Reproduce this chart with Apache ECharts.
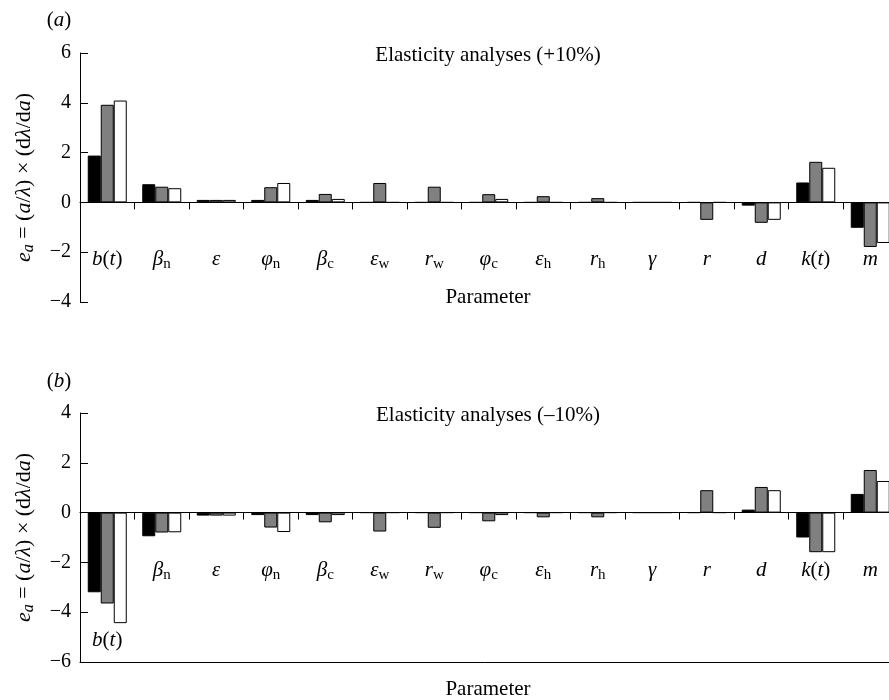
<!DOCTYPE html>
<html>
<head>
<meta charset="utf-8">
<script src="https://cdn.jsdelivr.net/npm/echarts@6/dist/echarts.min.js"></script>
<style>html,body{margin:0;padding:0;background:#fff;}#c{width:889px;height:700px;}</style>
</head>
<body>
<div id="c"></div>
<script>
// ---- data ----
var categories = ['b(t)','βn','ε','φn','βc','εw','rw','φc','εh','rh','γ','r','d','k(t)','m'];
// (a) elasticity +10%
var plusBlack = [1.88, 0.73, 0.10, 0.10, 0.10, 0, 0, 0, 0, 0, 0, 0, -0.13, 0.80, -1.02];
var plusGray  = [3.92, 0.63, 0.10, 0.61, 0.34, 0.78, 0.63, 0.33, 0.25, 0.17, 0, -0.70, -0.82, 1.63, -1.79];
var plusWhite = [4.09, 0.57, 0.10, 0.78, 0.14, 0, 0, 0.14, 0, 0, 0, 0, -0.70, 1.39, -1.63];
// (b) elasticity -10%
var minusBlack = [-3.20, -0.95, -0.12, -0.10, -0.10, 0, 0, 0, 0, 0, 0, 0, 0.12, -1.00, 0.75];
var minusGray  = [-3.65, -0.80, -0.12, -0.60, -0.39, -0.76, -0.61, -0.35, -0.19, -0.19, 0, 0.90, 1.03, -1.59, 1.71];
var minusWhite = [-4.44, -0.79, -0.12, -0.78, -0.10, 0, 0, -0.10, 0, 0, 0, 0, 0.90, -1.59, 1.27];
var yTicksA = {min: -4, max: 6, interval: 2};
var yTicksB = {min: -6, max: 4, interval: 2};
var titleA = 'Elasticity analyses (+10%)';
var titleB = 'Elasticity analyses (–10%)';
var xName = 'Parameter';

// ---- rendering ----
var FF = "'Liberation Serif','DejaVu Serif',serif";
var labelMap = {
  'b(t)': '{i|b}{u|(}{i|t}{u|)}',
  'βn': '{i|β}{s|n}',
  'ε': '{i|ε}',
  'φn': '{i|φ}{s|n}',
  'βc': '{i|β}{s|c}',
  'εw': '{i|ε}{s|w}',
  'rw': '{i|r}{s|w}',
  'φc': '{i|φ}{s|c}',
  'εh': '{i|ε}{s|h}',
  'rh': '{i|r}{s|h}',
  'γ': '{i|γ}',
  'r': '{i|r}',
  'd': '{i|d}',
  'k(t)': '{i|k}{u|(}{i|t}{u|)}',
  'm': '{i|m}'
};
var rich = {
  i: {fontFamily: FF, fontStyle: 'italic', fontSize: 21, lineHeight: 26, color: '#000'},
  u: {fontFamily: FF, fontSize: 21, lineHeight: 26, color: '#000'},
  s: {fontFamily: FF, fontSize: 15, lineHeight: 14, verticalAlign: 'bottom', color: '#000'},
  gap: {fontSize: 10, lineHeight: 70}
};
var yName = '{i|e}{s|a}{u| = (}{i|a}{u|/}{i|λ}{u|) × (d}{i|λ}{u|/d}{i|a}{u|)}';
var yRich = {
  i: {fontFamily: FF, fontStyle: 'italic', fontSize: 22, lineHeight: 25, color: '#000'},
  u: {fontFamily: FF, fontSize: 22, lineHeight: 25, color: '#000'},
  s: {fontFamily: FF, fontStyle: 'italic', fontSize: 16, lineHeight: 13, verticalAlign: 'bottom', color: '#000'}
};
var tagRich = {
  i: {fontFamily: FF, fontStyle: 'italic', fontSize: 21, lineHeight: 24, color: '#000'},
  u: {fontFamily: FF, fontSize: 21, lineHeight: 24, color: '#000'}
};

// axis at zero: line + ticks only
function zeroAxis(gridIndex) {
  return {
    type: 'category', gridIndex: gridIndex, data: categories,
    axisLine: {onZero: true, lineStyle: {color: '#000', width: 1}},
    axisTick: {show: true, length: 7, lineStyle: {color: '#000'}},
    axisLabel: {show: false}
  };
}
// label axis anchored at the bottom edge of the grid
function labelAxis(gridIndex, margin, bottomPanel) {
  return {
    type: 'category', gridIndex: gridIndex, data: categories, position: 'bottom',
    axisLine: {show: bottomPanel, onZero: false, lineStyle: {color: '#000', width: 1}},
    axisTick: {show: false},
    axisLabel: {
      interval: 0, margin: margin, rich: rich,
      formatter: function (v) {
        var s = labelMap[v];
        if (bottomPanel && v === 'b(t)') s = '{gap| }\n' + s;
        return s;
      }
    }
  };
}
function valAxis(gridIndex, t) {
  return {
    type: 'value', gridIndex: gridIndex, min: t.min, max: t.max, interval: t.interval,
    splitLine: {show: false},
    axisLine: {show: true, lineStyle: {color: '#000', width: 1}},
    axisTick: {show: true, inside: true, length: 8, lineStyle: {color: '#000'}},
    axisLabel: {
      fontFamily: FF, fontSize: 20, color: '#000', margin: 9,
      formatter: function (v) { return String(v).replace('-', '−'); }
    },
    name: yName, nameLocation: 'middle', nameRotate: 90, nameGap: 43,
    nameTextStyle: {rich: yRich}
  };
}
function barSeries(data, color, xi, yi) {
  return {
    type: 'bar', data: data, xAxisIndex: xi, yAxisIndex: yi,
    barWidth: 13, barGap: '0%',
    itemStyle: {color: color, borderColor: '#000', borderWidth: 1},
    animation: false
  };
}
var textStyleBase = {fontFamily: FF, fontSize: 21, fill: '#000', align: 'center', verticalAlign: 'middle'};
function txt(x, y, s, extra) {
  var st = Object.assign({}, textStyleBase, {text: s}, extra || {});
  return {type: 'text', x: x, y: y, style: st};
}

var chart = echarts.init(document.getElementById('c'), null, {renderer: 'canvas'});
chart.setOption({
  backgroundColor: '#fff',
  animation: false,
  grid: [
    {left: 80, top: 53, width: 817.5, height: 249, containLabel: false, outerBoundsMode: 'none'},
    {left: 80, top: 413, width: 817.5, height: 249, containLabel: false, outerBoundsMode: 'none'}
  ],
  xAxis: [
    zeroAxis(0),
    zeroAxis(1),
    labelAxis(0, -56, false),
    labelAxis(1, -105, true)
  ],
  yAxis: [valAxis(0, yTicksA), valAxis(1, yTicksB)],
  series: [
    barSeries(plusBlack, '#000000', 0, 0),
    barSeries(plusGray, '#808080', 0, 0),
    barSeries(plusWhite, '#ffffff', 0, 0),
    barSeries(minusBlack, '#000000', 1, 1),
    barSeries(minusGray, '#808080', 1, 1),
    barSeries(minusWhite, '#ffffff', 1, 1)
  ],
  graphic: [
    txt(59, 20, '(a)', {text: '{u|(}{i|a}{u|)}', rich: tagRich}),
    txt(488, 55, titleA),
    txt(488, 297, xName),
    txt(59, 381, '(b)', {text: '{u|(}{i|b}{u|)}', rich: tagRich}),
    txt(488, 415, titleB),
    txt(488, 689, xName)
  ]
});
</script>
</body>
</html>
